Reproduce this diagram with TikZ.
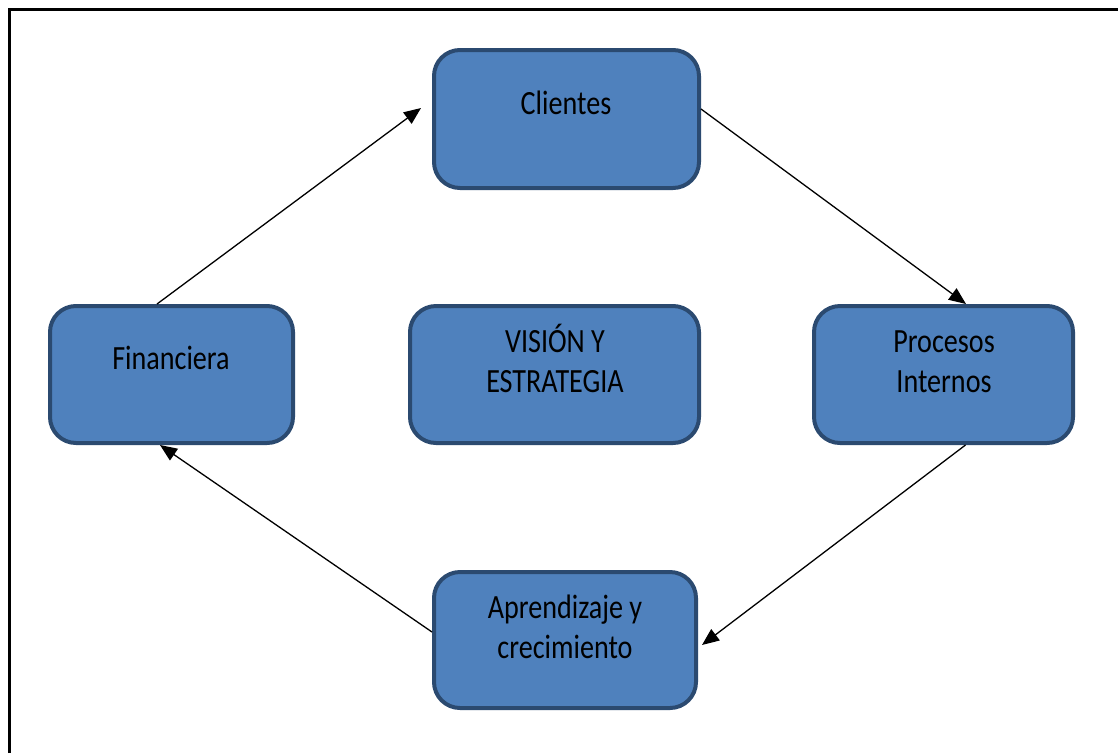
\documentclass[tikz,border=0pt]{standalone}
\usepackage{graphicx}
\usepackage{fontspec}
\setmainfont{Carlito}
\usetikzlibrary{arrows.meta}
\definecolor{boxfill}{HTML}{4F81BD}
\definecolor{boxline}{HTML}{2B4A70}
\newcommand\stretchtxt[1]{\scalebox{0.97}[1.17]{\begin{tabular}{@{}c@{}}#1\end{tabular}}}
\begin{document}
\begin{tikzpicture}[x=1pt,y=-1pt,
  card/.style={draw=boxline,fill=boxfill,line width=4pt,rounded corners=26pt,inner sep=0pt},
  lbl/.style={font=\fontsize{29}{34.2}\selectfont,align=center,inner sep=0pt,text=black},
  conn/.style={line width=1.3pt,-{Triangle[length=17pt,width=14pt]}}]
\useasboundingbox (0,0) rectangle (1118,753);
% frame
\draw[line width=3pt] (9.5,753) -- (9.5,9.5) -- (1118,9.5);
% boxes
\node[card,minimum width=265pt,minimum height=138pt] (cli) at (566.5,119) {};
\node[card,minimum width=243pt,minimum height=137pt] (fin) at (171.5,374.5) {};
\node[card,minimum width=289pt,minimum height=137pt] (vis) at (554.5,374.5) {};
\node[card,minimum width=259pt,minimum height=137pt] (pro) at (943.5,374.5) {};
\node[card,minimum width=262pt,minimum height=136pt] (apr) at (565,640) {};
% labels
\node[lbl] (cli-t) at (566,106) {\stretchtxt{Clientes}};
\node[lbl] (fin-t) at (171,361) {\stretchtxt{Financiera}};
\node[lbl] (vis-t) at (555,364) {\stretchtxt{VISIÓN Y\\ESTRATEGIA}};
\node[lbl] (pro-t) at (944,364) {\stretchtxt{Procesos\\Internos}};
\node[lbl] (apr-t) at (565,630) {\stretchtxt{Aprendizaje y\\crecimiento}};
% arrow ends
\coordinate (e1) at (421,108);
\coordinate (e2) at (966,304);
\coordinate (e3) at (702,645);
\coordinate (e4) at (160,445);
\draw[conn] ([xshift=-14.5pt]fin.north) -- (e1);
\draw[conn] ([yshift=10pt]cli.east) -- (e2);
\draw[conn] ([xshift=22pt]pro.south) -- (e3);
\draw[conn] ([yshift=8pt]apr.west) -- (e4);
\end{tikzpicture}
\end{document}
